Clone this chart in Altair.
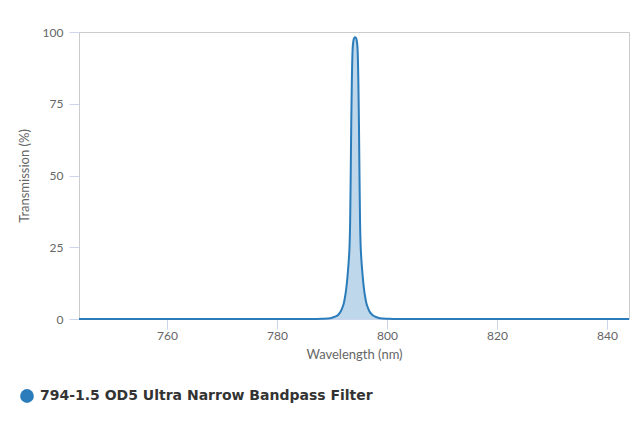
import altair as alt
import pandas as pd

# Values
wavelength_nm = [744.0, 770.0, 786.2, 788.2, 789.7, 790.55, 791.15, 791.55, 791.85,
                 792.15, 792.35, 792.55, 792.7, 792.87, 793.05, 793.2, 793.3, 793.4,
                 793.5, 793.6, 793.75, 793.9, 794.05, 794.2, 794.35, 794.5, 794.65,
                 794.8, 794.9, 795.0, 795.1, 795.2, 795.35, 795.53, 795.7, 795.85,
                 796.05, 796.25, 796.55, 796.85, 797.3, 797.85, 798.7, 800.2, 802.2,
                 820.0, 844.0]
transmission_pct = [0.0, 0.0, 0.0, 0.1, 0.3, 0.8, 1.5, 2.5, 3.8,
                    5.5, 7.5, 10.0, 12.5, 16.0, 20.5, 26.0, 34.0, 50.0,
                    68.0, 82.0, 94.0, 97.0, 98.0, 98.2, 98.0, 97.0, 94.0,
                    82.0, 68.0, 50.0, 34.0, 26.0, 20.5, 16.0, 12.5, 10.0,
                    7.5, 5.5, 3.8, 2.5, 1.5, 0.8, 0.3, 0.1, 0.0,
                    0.0, 0.0]
series_name = "794-1.5 OD5 Ultra Narrow Bandpass Filter"
x_ticks = [760, 780, 800, 820, 840]
y_ticks = [0, 25, 50, 75, 100]

LINE = "#2b7cba"
AXFONT = "Lato"

df = pd.DataFrame({
    "wl": wavelength_nm,
    "t": transmission_pct,
    "series": [series_name] * len(wavelength_nm),
})

x_enc = alt.X(
    "wl:Q",
    scale=alt.Scale(domain=[744, 844], nice=False, zero=False),
    axis=alt.Axis(
        values=x_ticks, title="Wavelength (nm)", grid=False,
        tickSize=10, tickColor="#ccd6eb", domainColor="#ccd6eb",
        labelPadding=1, labelFontSize=12, labelColor="#666666", labelFont=AXFONT,
        titleFontSize=13, titleColor="#666666", titleFont=AXFONT,
        titleFontWeight="normal", titlePadding=7,
    ),
)
y_enc = alt.Y(
    "t:Q",
    scale=alt.Scale(domain=[0, 100], nice=False),
    axis=alt.Axis(
        values=y_ticks, title="Transmission (%)", grid=False,
        tickSize=10, tickColor="#ccd6eb", domainColor="#cccccc",
        labelPadding=6, labelFontSize=12, labelColor="#666666", labelFont=AXFONT,
        titleFontSize=13, titleColor="#666666", titleFont=AXFONT,
        titleFontWeight="normal", titlePadding=11,
    ),
)

area = alt.Chart(df).mark_area(
    interpolate="monotone", color=LINE, opacity=0.3
).encode(x=x_enc, y=y_enc)

line = alt.Chart(df).mark_line(
    interpolate="monotone", strokeWidth=2
).encode(
    x=x_enc,
    y=y_enc,
    color=alt.Color(
        "series:N",
        scale=alt.Scale(range=[LINE]),
        legend=alt.Legend(
            title=None, orient="none", legendX=-59, legendY=357,
            symbolType="circle", symbolSize=190, symbolStrokeWidth=0,
            symbolFillColor=LINE, symbolOpacity=1,
            labelFontSize=14, labelFont="DejaVu Sans", labelFontWeight="bold",
            labelColor="#333333", labelLimit=600, padding=0, labelOffset=6,
        ),
    ),
)

chart = alt.layer(area, line).properties(
    width=550, height=287,
    autosize=alt.AutoSizeParams(type="none"),
    padding={"left": 71, "top": 24, "right": 3, "bottom": 100},
).configure_view(
    stroke="#cccccc", strokeWidth=1
)

chart.save("out.html", embed_options={"renderer": "svg", "actions": False})
